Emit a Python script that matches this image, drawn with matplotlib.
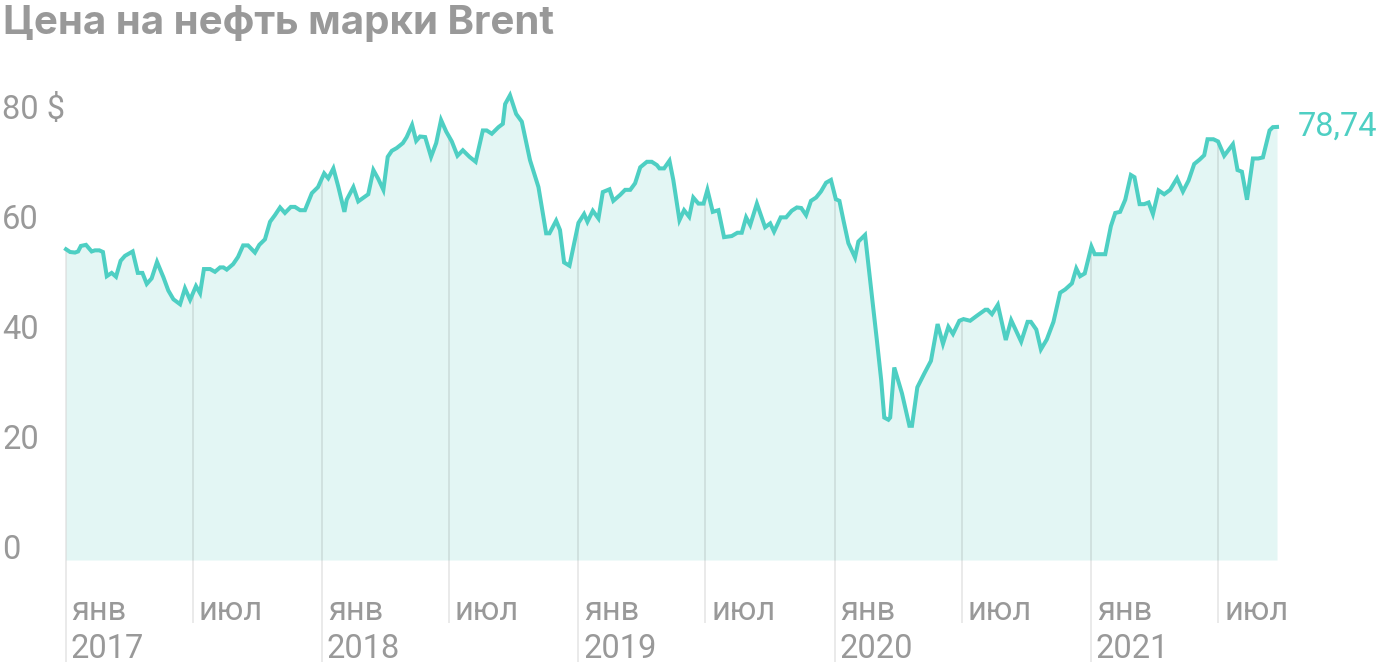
import matplotlib
matplotlib.use("Agg")
import matplotlib.pyplot as plt
import numpy as np

# ---- data (time in years since 1 Jan 2017, Brent price in USD) ----
base_year = 2017
t_years = [0.002, 0.018, 0.037, 0.049, 0.060, 0.080, 0.102, 0.115, 0.132, 0.146,
           0.161, 0.180, 0.197, 0.215, 0.232, 0.262, 0.282, 0.300, 0.317, 0.336,
           0.357, 0.382, 0.401, 0.421, 0.447, 0.466, 0.486, 0.509, 0.525, 0.540,
           0.564, 0.583, 0.603, 0.616, 0.629, 0.654, 0.673, 0.693, 0.712, 0.739,
           0.756, 0.778, 0.798, 0.817, 0.837, 0.856, 0.879, 0.895, 0.915, 0.934,
           0.961, 0.985, 1.009, 1.025, 1.045, 1.064, 1.088, 1.097, 1.123, 1.142,
           1.181, 1.201, 1.220, 1.240, 1.257, 1.273, 1.292, 1.316, 1.331, 1.352,
           1.368, 1.383, 1.403, 1.426, 1.446, 1.465, 1.485, 1.507, 1.529, 1.550,
           1.576, 1.600, 1.628, 1.643, 1.663, 1.689, 1.706, 1.715, 1.734, 1.758,
           1.780, 1.812, 1.845, 1.875, 1.888, 1.914, 1.929, 1.945, 1.966, 2.001,
           2.023, 2.036, 2.057, 2.079, 2.096, 2.122, 2.137, 2.164, 2.183, 2.203,
           2.222, 2.242, 2.268, 2.287, 2.307, 2.317, 2.335, 2.356, 2.371, 2.395,
           2.413, 2.433, 2.449, 2.469, 2.489, 2.504, 2.525, 2.547, 2.569, 2.599,
           2.621, 2.638, 2.655, 2.671, 2.697, 2.729, 2.749, 2.764, 2.790, 2.811,
           2.833, 2.853, 2.870, 2.889, 2.908, 2.928, 2.947, 2.967, 2.986, 3.005,
           3.019, 3.035, 3.054, 3.080, 3.093, 3.119, 3.146, 3.165, 3.182, 3.194,
           3.210, 3.217, 3.233, 3.263, 3.292, 3.302, 3.323, 3.350, 3.376, 3.402,
           3.423, 3.444, 3.462, 3.487, 3.503, 3.529, 3.555, 3.588, 3.597, 3.614,
           3.637, 3.668, 3.689, 3.728, 3.753, 3.766, 3.787, 3.805, 3.828, 3.854,
           3.880, 3.900, 3.926, 3.943, 3.958, 3.976, 4.002, 4.015, 4.056, 4.078,
           4.095, 4.114, 4.134, 4.156, 4.170, 4.190, 4.208, 4.225, 4.242, 4.264,
           4.286, 4.309, 4.336, 4.359, 4.381, 4.403, 4.424, 4.442, 4.455, 4.478,
           4.496, 4.520, 4.554, 4.572, 4.589, 4.609, 4.632, 4.653, 4.671, 4.697,
           4.710, 4.726]
prices = [56.5, 56.0, 55.9, 56.1, 57.1, 57.3, 56.1, 56.3, 56.3, 56.0,
          51.6, 52.2, 51.5, 54.4, 55.3, 56.1, 52.2, 52.2, 50.2, 51.2,
          54.2, 51.4, 49.0, 47.4, 46.5, 49.4, 47.3, 49.8, 48.5, 52.9,
          52.9, 52.4, 53.2, 53.2, 52.8, 53.8, 55.1, 57.2, 57.2, 55.9,
          57.3, 58.3, 61.5, 62.7, 64.1, 63.1, 64.2, 64.2, 63.6, 63.6,
          66.7, 67.8, 70.3, 69.4, 71.2, 67.9, 63.3, 65.5, 67.8, 65.2,
          66.5, 70.9, 69.3, 67.3, 73.3, 74.4, 74.9, 75.8, 76.9, 79.1,
          76.2, 77.0, 76.9, 73.3, 75.8, 80.0, 77.9, 76.1, 73.5, 74.5,
          73.3, 72.4, 78.1, 78.1, 77.5, 78.7, 79.3, 82.9, 84.5, 81.1,
          79.7, 72.7, 67.8, 59.4, 59.4, 61.7, 60.0, 54.1, 53.5, 61.3,
          62.9, 61.5, 63.5, 62.1, 66.9, 67.4, 65.3, 66.4, 67.3, 67.3,
          68.5, 71.4, 72.4, 72.4, 71.8, 71.2, 71.2, 72.6, 69.1, 61.8,
          63.6, 62.4, 65.9, 64.8, 64.8, 67.3, 63.3, 63.6, 58.7, 58.9,
          59.5, 59.5, 62.3, 60.9, 64.8, 60.5, 61.2, 59.7, 62.3, 62.3,
          63.5, 64.1, 64.0, 62.7, 65.3, 65.9, 67.0, 68.6, 69.1, 65.6,
          65.3, 61.7, 57.6, 55.0, 57.9, 59.1, 47.9, 40.0, 32.7, 25.9,
          25.5, 25.9, 35.0, 30.3, 24.4, 24.4, 31.4, 33.9, 36.2, 42.9,
          39.3, 42.4, 41.1, 43.5, 43.8, 43.5, 44.4, 45.5, 45.5, 44.7,
          46.4, 40.0, 43.6, 39.7, 43.3, 43.3, 41.9, 38.3, 40.1, 43.3,
          48.6, 49.2, 50.3, 53.0, 51.6, 52.1, 57.0, 55.6, 55.6, 60.7,
          63.1, 63.3, 65.5, 70.0, 69.6, 64.7, 64.7, 65.0, 62.9, 67.2,
          66.5, 67.3, 69.4, 67.0, 69.0, 72.0, 72.8, 73.6, 76.5, 76.5,
          76.1, 73.5, 75.6, 70.9, 70.6, 65.5, 73.0, 73.0, 73.2, 78.1,
          78.7, 78.74]
last_label = "78,74"

y_ticks = [0, 20, 40, 60, 80]
y_tick_labels = ["0", "20", "40", "60", "80 $"]

tick_pos = [0.0, 0.496, 1.0, 1.496, 2.0, 2.496, 3.0, 3.497, 4.0, 4.496]
tick_months = ["янв", "июл", "янв", "июл", "янв", "июл", "янв", "июл", "янв", "июл"]
tick_years = ["2017", "", "2018", "", "2019", "", "2020", "", "2021", ""]

title = "Цена на нефть марки Brent"

# ---- style ----
LINE = "#4ecfc3"
FILL = "#e3f6f4"
GRAY = "#999999"
GRID = "#000000"

plt.rcParams['font.family'] = ['Roboto', 'DejaVu Sans']

W, H = 1400, 672
fig = plt.figure(figsize=(W / 100, H / 100), dpi=100)
x_left, x_right = 65.5, 1277.0
y_zero, y_top = 560.0, 80.0
ax = fig.add_axes([x_left / W, (H - y_zero) / H, (x_right - x_left) / W, (y_zero - y_top) / H])
ymax = (y_zero - y_top) / 5.5
ax.set_xlim(0, t_years[-1])
ax.set_ylim(0, ymax)
ax.axis("off")

t = np.array(t_years)
p = np.array(prices)

# vertical month lines from the data line down below the axis
for pos, yr in zip(tick_pos, tick_years):
    top = np.interp(pos, t, p)
    bottom = -18.6 if yr else -11.4
    ax.plot([pos, pos], [bottom, top], color=GRID, alpha=0.09, lw=1.3,
            clip_on=False, zorder=1, solid_capstyle="butt")

ax.fill_between(t, 0, p, color=FILL, lw=0, zorder=0)
ax.plot(t, p, color=LINE, lw=2.9, clip_on=False, zorder=3,
        solid_joinstyle="miter")

FS = 23.5
# y labels
for v, lab in zip(y_ticks, y_tick_labels):
    ax.annotate(lab, xy=(2, v), xycoords=("figure pixels", "data"),
                xytext=(0, 10), textcoords="offset pixels",
                ha="left", va="center", fontsize=FS, color=GRAY)

# x labels
for pos, m, yr in zip(tick_pos, tick_months, tick_years):
    ax.annotate(m, xy=(pos, H - 611), xycoords=("data", "figure pixels"),
                xytext=(6, 0), textcoords="offset pixels",
                ha="left", va="center", fontsize=FS, color=GRAY)
    if yr:
        ax.annotate(yr, xy=(pos, H - 649), xycoords=("data", "figure pixels"),
                    xytext=(5, 0), textcoords="offset pixels",
                    ha="left", va="center", fontsize=FS, color=GRAY)

# last value label
ax.annotate(last_label, xy=(t[-1], p[-1]), xycoords="data",
            xytext=(21, 0), textcoords="offset pixels",
            ha="left", va="center", fontsize=FS, color=LINE)

fig.text(3 / W, 1 - 23 / H, title, ha="left", va="center",
         fontsize=29, fontweight="bold", color=GRAY, family=["Inter", "Roboto"])

fig.savefig("out.png", dpi=100, facecolor="white")
